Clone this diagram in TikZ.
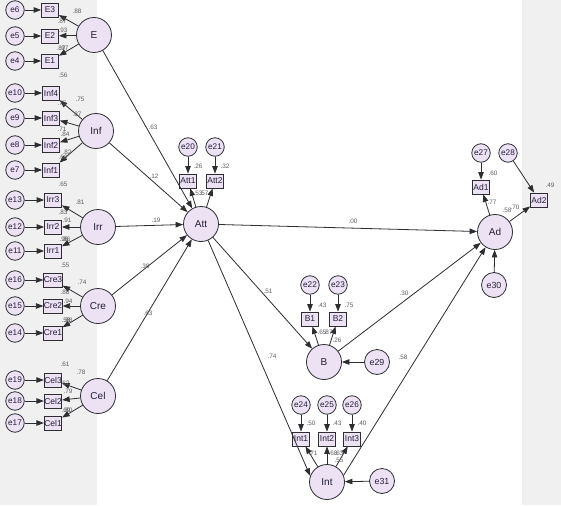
\documentclass[tikz,border=0pt]{standalone}
\usepackage{fontspec}
\setmainfont{Liberation Sans}
\usetikzlibrary{arrows.meta}
\definecolor{bgc}{RGB}{240,240,240}
\definecolor{fillc}{RGB}{236,226,244}
\definecolor{linec}{RGB}{45,45,50}
\definecolor{labc}{RGB}{95,95,100}
\definecolor{txtc}{RGB}{35,30,55}
\tikzset{
  base/.style={draw=linec, fill=fillc, line width=0.8pt, text=txtc, inner sep=0pt},
  lat/.style={base, circle, minimum size=35pt, font=\fontsize{10}{11}\selectfont},
  err/.style={base, circle, minimum size=18.5pt, font=\fontsize{8.2}{9}\selectfont},
  errbig/.style={base, circle, minimum size=25pt, font=\fontsize{8.8}{9}\selectfont},
  obs/.style={base, rectangle, minimum width=17pt, minimum height=14pt, font=\fontsize{8.5}{9}\selectfont},
  arr/.style={draw=linec, line width=0.8pt, -{Triangle[length=7.5pt,width=5.5pt]}},
  lab/.style={font=\fontsize{6.4}{7}\selectfont, text=labc, inner sep=0pt},
}
\begin{document}
\begin{tikzpicture}[x=1pt,y=-1pt]
\useasboundingbox (0,0) rectangle (561,505);
\fill[white] (0,0) rectangle (561,505);
\fill[bgc] (0,0) rectangle (97,505);
\fill[bgc] (522,0) rectangle (561,505);

% ---- E block
\node[err] (e6) at (15,10) {e6};  \node[obs] (E3) at (50,10) {E3};
\node[err] (e5) at (15,36) {e5};  \node[obs] (E2) at (50,36) {E2};
\node[err] (e4) at (15,61) {e4};  \node[obs] (E1) at (50,61) {E1};
\node[lat] (E) at (94,35) {E};
% ---- Inf block
\node[err] (e10) at (15,93) {e10};  \node[obs] (Inf4) at (51,93) {Inf4};
\node[err] (e9) at (15,118) {e9};   \node[obs] (Inf3) at (51,118) {Inf3};
\node[err] (e8) at (15,145) {e8};   \node[obs] (Inf2) at (51,145) {Inf2};
\node[err] (e7) at (15,170) {e7};   \node[obs] (Inf1) at (51,170) {Inf1};
\node[lat] (Inf) at (96,131) {Inf};
% ---- Irr block
\node[err] (e13) at (15,200) {e13};  \node[obs] (Irr3) at (53,200) {Irr3};
\node[err] (e12) at (15,227) {e12};  \node[obs] (Irr2) at (53,227) {Irr2};
\node[err] (e11) at (15,251) {e11};  \node[obs] (Irr1) at (53,251) {Irr1};
\node[lat] (Irr) at (98,227) {Irr};
% ---- Cre block
\node[err] (e16) at (15,280) {e16};  \node[obs] (Cre3) at (53,280) {Cre3};
\node[err] (e15) at (15,306) {e15};  \node[obs] (Cre2) at (53,306) {Cre2};
\node[err] (e14) at (15,333) {e14};  \node[obs] (Cre1) at (53,333) {Cre1};
\node[lat] (Cre) at (98,306) {Cre};
% ---- Cel block
\node[err] (e19) at (15,380) {e19};  \node[obs] (Cel3) at (53,380) {Cel3};
\node[err] (e18) at (15,401) {e18};  \node[obs] (Cel2) at (53,401) {Cel2};
\node[err] (e17) at (15,423) {e17};  \node[obs] (Cel1) at (53,423) {Cel1};
\node[lat] (Cel) at (98,396) {Cel};

% ---- Att
\node[lat] (Att) at (201,224) {Att};
\node[obs] (Att1) at (188,181) {Att1};
\node[obs] (Att2) at (215,181) {Att2};
\node[err] (e20) at (188,147) {e20};
\node[err] (e21) at (215,147) {e21};
% ---- B
\node[lat] (B) at (324,362) {B};
\node[obs] (B1) at (310,319) {B1};
\node[obs] (B2) at (338,319) {B2};
\node[err] (e22) at (310,285) {e22};
\node[err] (e23) at (338,285) {e23};
\node[errbig] (e29) at (377,362) {e29};
% ---- Int
\node[lat] (Int) at (327,482) {Int};
\node[obs] (Int1) at (301,439) {Int1};
\node[obs] (Int2) at (327,439) {Int2};
\node[obs] (Int3) at (352,439) {Int3};
\node[err] (e24) at (301,405) {e24};
\node[err] (e25) at (327,405) {e25};
\node[err] (e26) at (352,405) {e26};
\node[errbig] (e31) at (382,481) {e31};
% ---- Ad
\node[lat] (Ad) at (495,232) {Ad};
\node[obs] (Ad1) at (481,187) {Ad1};
\node[obs] (Ad2) at (539,200) {Ad2};
\node[err] (e27) at (481,153) {e27};
\node[err] (e28) at (508,153) {e28};
\node[errbig] (e30) at (494,285) {e30};

% ---- arrows
\foreach \a/\b in {e6/E3,e5/E2,e4/E1,E/E3,E/E2,E/E1,
  e10/Inf4,e9/Inf3,e8/Inf2,e7/Inf1,Inf/Inf4,Inf/Inf3,Inf/Inf2,Inf/Inf1,
  e13/Irr3,e12/Irr2,e11/Irr1,Irr/Irr3,Irr/Irr2,Irr/Irr1,
  e16/Cre3,e15/Cre2,e14/Cre1,Cre/Cre3,Cre/Cre2,Cre/Cre1,
  e19/Cel3,e18/Cel2,e17/Cel1,Cel/Cel3,Cel/Cel2,Cel/Cel1,
  E/Att,Inf/Att,Irr/Att,Cre/Att,Cel/Att,
  e20/Att1,e21/Att2,Att/Att1,Att/Att2,
  Att/Ad,Att/B,B/Ad,
  e22/B1,e23/B2,B/B1,B/B2,e29/B,
  e24/Int1,e25/Int2,e26/Int3,Int/Int1,Int/Int2,Int/Int3,e31/Int,
  e27/Ad1,e28/Ad2,Ad/Ad1,Ad/Ad2,e30/Ad}
  \draw[arr] (\a) -- (\b);
\draw[arr] (Att) -- (Int.160);
\draw[arr] (Int.22) -- (Ad);

% ---- labels left
\node[lab] (l1) at (77,11) {.88};
\node[lab] (l2) at (62,21) {.87};
\node[lab] (l3) at (63,30) {.93};
\node[lab] (l4) at (61,48) {.87};
\node[lab] (l5) at (64,48) {.97};
\node[lab] (l6) at (63,75) {.56};
\node[lab] (l7) at (80,99) {.75};
\node[lab] (l8) at (62,103) {.75};
\node[lab] (l9) at (77,114) {.87};
\node[lab] (l10) at (62,129) {.71};
\node[lab] (l11) at (65,134) {.84};
\node[lab] (l12) at (67,152) {.82};
\node[lab] (l13) at (63,157) {.68};
\node[lab] (l14) at (63,184) {.65};
\node[lab] (l15) at (80,202) {.81};
\node[lab] (l16) at (63,212) {.83};
\node[lab] (l17) at (67,220) {.91};
\node[lab] (l18) at (64,239) {.96};
\node[lab] (l19) at (66,239) {.86};
\node[lab] (l20) at (65,265) {.55};
\node[lab] (l21) at (82,282) {.74};
\node[lab] (l22) at (65,292) {.88};
\node[lab] (l23) at (68,301) {.94};
\node[lab] (l24) at (66,320) {.58};
\node[lab] (l25) at (68,320) {.88};
\node[lab] (l26) at (65,364) {.61};
\node[lab] (l27) at (81,372) {.78};
\node[lab] (l28) at (65,383) {.62};
\node[lab] (l29) at (68,391) {.79};
\node[lab] (l30) at (66,410) {.60};
\node[lab] (l31) at (68,410) {.80};
% ---- labels structural
\node[lab] (m1) at (153,127) {.63};
\node[lab] (m2) at (154,176) {.12};
\node[lab] (m3) at (156,220) {.19};
\node[lab] (m4) at (145,266) {.38};
\node[lab] (m5) at (148,313) {.63};
\node[lab] (m6) at (198,166) {.26};
\node[lab] (m7) at (225,166) {.32};
\node[lab] (m8) at (198,193) {.53};
\node[lab] (m9) at (204,193) {.57};
\node[lab] (m10) at (353,221) {.00};
\node[lab] (m11) at (268,291) {.51};
\node[lab] (m12) at (272,356) {.74};
\node[lab] (m13) at (404,293) {.30};
\node[lab] (m14) at (403,357) {.58};
% ---- B labels
\node[lab] (b1) at (322,305) {.43};
\node[lab] (b2) at (349,305) {.75};
\node[lab] (b3) at (322,332) {.65};
\node[lab] (b4) at (328,332) {.87};
\node[lab] (b5) at (337,340) {.26};
% ---- Int labels
\node[lab] (i1) at (311,423) {.50};
\node[lab] (i2) at (337,423) {.43};
\node[lab] (i3) at (362,423) {.40};
\node[lab] (i4) at (313,453) {.71};
\node[lab] (i5) at (333,453) {.68};
\node[lab] (i6) at (339,453) {.63};
\node[lab] (i7) at (339,460) {.55};
% ---- Ad labels
\node[lab] (a1) at (493,173) {.60};
\node[lab] (a2) at (550,185) {.49};
\node[lab] (a3) at (492,202) {.77};
\node[lab] (a4) at (507,210) {.58};
\node[lab] (a5) at (515,207) {.70};
\end{tikzpicture}
\end{document}
